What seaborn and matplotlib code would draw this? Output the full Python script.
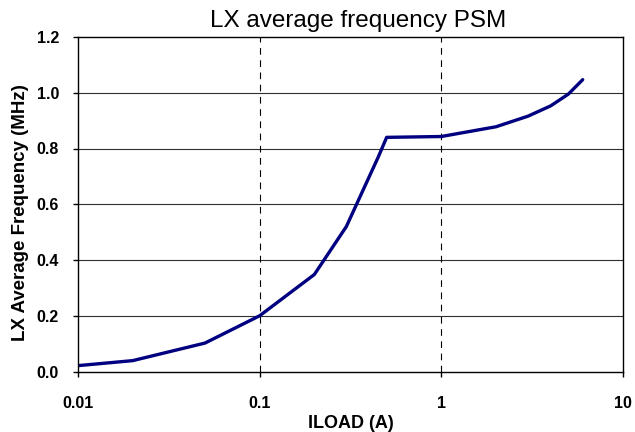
import matplotlib
matplotlib.use("Agg")
import matplotlib.pyplot as plt
import matplotlib.ticker as mticker
import seaborn as sns
import pandas as pd

# Load current (A) and average LX switching frequency (MHz) in PSM
iload = [0.01, 0.02, 0.05, 0.1, 0.2, 0.3, 0.45, 0.5, 1.0, 2.0, 3.0, 4.0, 5.0, 6.0]
freq = [0.021, 0.039, 0.102, 0.200, 0.348, 0.520, 0.770, 0.840, 0.843, 0.878, 0.916, 0.953, 0.995, 1.047]

x_ticks = [0.01, 0.1, 1, 10]
x_tick_labels = ["0.01", "0.1", "1", "10"]
y_ticks = [0.0, 0.2, 0.4, 0.6, 0.8, 1.0, 1.2]
y_tick_labels = ["0.0", "0.2", "0.4", "0.6", "0.8", "1.0", "1.2"]

df = pd.DataFrame({"ILOAD": iload, "Freq": freq})

sns.set_style("white")
plt.rcParams["font.family"] = ["Liberation Sans", "DejaVu Sans"]
plt.rcParams["text.color"] = "black"
plt.rcParams["axes.labelcolor"] = "black"
plt.rcParams["xtick.color"] = "black"
plt.rcParams["ytick.color"] = "black"

W, H = 635, 432
fig = plt.figure(figsize=(W / 100, H / 100), dpi=100)
ax = fig.add_axes([78 / W, 1 - 371.5 / H, (623 - 78) / W, (371.5 - 37) / H])

sns.lineplot(data=df, x="ILOAD", y="Freq", ax=ax, color="#000080", linewidth=2.4,
             estimator=None, sort=False)

ax.set_xscale("log")
ax.set_xlim(0.01, 10)
ax.set_ylim(0, 1.2)
ax.xaxis.set_minor_locator(mticker.NullLocator())
ax.set_xticks(x_ticks)
ax.set_xticklabels(x_tick_labels)
ax.set_yticks(y_ticks)
ax.set_yticklabels(y_tick_labels)

for y in y_ticks[1:-1]:
    ax.axhline(y, color="#303030", linewidth=0.8, zorder=0)
for x in x_ticks[1:-1]:
    ax.axvline(x, color="black", linewidth=0.8, linestyle=(0, (6, 5)), zorder=0)

for side in ["left", "bottom", "top", "right"]:
    ax.spines[side].set_visible(True)
    ax.spines[side].set_color("black")
    ax.spines[side].set_linewidth(1.0)

ax.tick_params(axis="both", which="major", direction="out", length=3.6, width=1,
               color="black", labelsize=11.5, bottom=True, left=True)
ax.tick_params(axis="x", pad=14)
ax.tick_params(axis="y", pad=10)
for lbl in ax.get_xticklabels() + ax.get_yticklabels():
    lbl.set_fontweight("bold")

ax.set_xlabel("ILOAD (A)", fontsize=13, fontweight="bold", labelpad=3)
ax.set_ylabel("LX Average Frequency (MHz)", fontsize=13.5, fontweight="bold")
ax.yaxis.set_label_coords((29 - 78) / 545, (371.5 - 212.5) / 334.5)

fig.text(358.5 / W, 1 - 27 / H, "LX average frequency PSM", fontsize=17.5,
         ha="center", va="baseline", color="black")

fig.savefig("out.png", dpi=100)
